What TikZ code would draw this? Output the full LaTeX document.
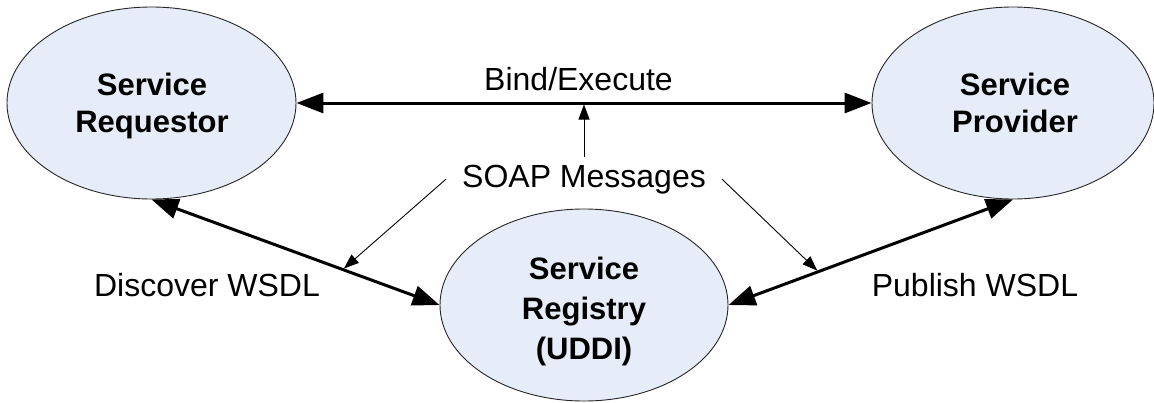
\documentclass[tikz,border=0pt]{standalone}
\usepackage{fontspec}
\setmainfont{Liberation Sans}
\usetikzlibrary{shapes.geometric,arrows.meta}
\definecolor{ellfill}{RGB}{231,237,248}
\begin{document}
\begin{tikzpicture}[x=1pt,y=-1pt,
  ell/.style={ellipse,draw=black!85,line width=0.9pt,fill=ellfill,inner sep=0pt,minimum width=289pt,minimum height=192pt},
  boldtxt/.style={font=\fontsize{31}{37}\selectfont\bfseries,inner sep=0pt,anchor=base},
  lbl/.style={font=\fontsize{32}{38}\selectfont,inner sep=0pt,anchor=base},
  thickarrow/.style={line width=3pt,{Triangle[length=27pt,width=20pt]}-{Triangle[length=27pt,width=20pt]}},
  thinarrow/.style={line width=0.9pt,-{Triangle[length=15pt,width=11pt]},shorten >=1.5pt}]
\useasboundingbox (0,0) rectangle (1154,402);
% ellipses
\node[ell] (req) at (151.5,103) {};
\node[ell,minimum width=282pt] (prov) at (1013,103) {};
\node[ell,minimum width=288pt] (reg) at (584,305) {};
% ellipse texts
\node[boldtxt] (reqA) at (152,95) {Service};
\node[boldtxt] (reqB) at (152,132) {Requestor};
\node[boldtxt] (provA) at (1015,95) {Service};
\node[boldtxt] (provB) at (1015,132) {Provider};
\node[boldtxt] (regA) at (584,279) {Service};
\node[boldtxt] (regB) at (584,319) {Registry};
\node[boldtxt] (regC) at (584,359) {(UDDI)};
% labels
\node[lbl] (bind) at (578.5,90) {Bind/Execute};
\node[lbl] (disc) at (207,296) {Discover WSDL};
\node[lbl] (pub) at (975,296) {Publish WSDL};
\node[lbl,inner xsep=16pt,inner ysep=7pt] (soap) at (584,187) {SOAP Messages};
% connectors
\draw[thickarrow] (req.east) -- coordinate[midway] (bm) (prov.west);
\draw[thickarrow] (req.south) -- coordinate[pos=0.664] (dm) (reg.west);
\draw[thickarrow] (reg.east) -- coordinate[pos=0.316] (pm) (prov.south);
\draw[thinarrow] (soap.north) -- (bm);
\draw[thinarrow] (soap.west) -- (dm);
\draw[thinarrow] (soap.east) -- (pm);
\end{tikzpicture}
\end{document}
